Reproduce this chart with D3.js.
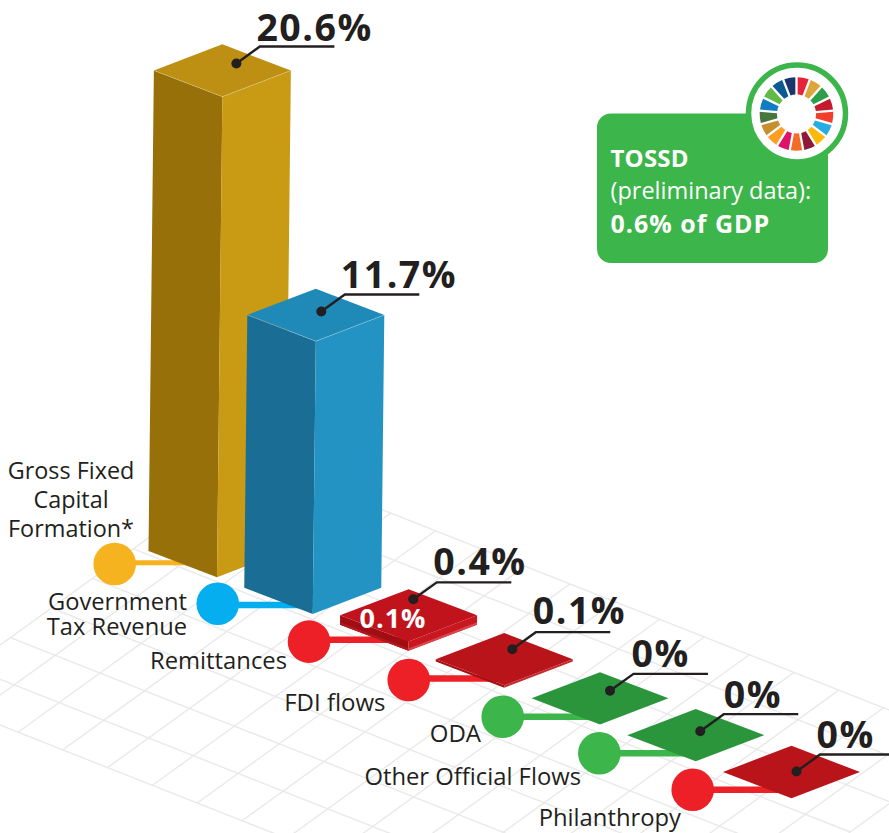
<!DOCTYPE html>
<html><head><meta charset="utf-8">
<script src="https://cdn.jsdelivr.net/npm/d3@7"></script>
<style>
html,body{margin:0;padding:0;background:#fff}
svg{display:block}
text{font-family:"Open Sans",sans-serif}
</style></head><body>
<svg id="c" width="889" height="833"></svg>
<script>
// ---- data ----
const categories = ["Gross Fixed Capital Formation*","Government Tax Revenue","Remittances","FDI flows","ODA","Other Official Flows","Philanthropy"];
const values = [20.6,11.7,0.4,0.1,0,0,0];
const valueLabels = ["20.6%","11.7%","0.4%","0.1%","0%","0%","0%"];
const innerValues = [0,0,0.1,0,0,0,0];
const innerLabel = "0.1%";
const categoryLines = [["Gross Fixed","Capital","Formation*"],["Government","Tax Revenue"],["Remittances"],["FDI flows"],["ODA"],["Other Official Flows"],["Philanthropy"]];
const tossdLines = ["TOSSD","(preliminary data):","0.6% of GDP"];
const sdgColors = ["#e5243b","#dda63a","#2f9e48","#c5192d","#f0402b","#26aee2","#fcb90b","#8f1838","#f36d25","#dd1367","#fd9d24","#c88f2e","#48773e","#0f7cc4","#62b946","#0a5a94","#19376d"];

// ---- styles ----
const faceLeft  = ["#977009","#1a6d94","#a00e14","#a51015","#2a953b","#2a953b","#b9141a"];
const faceRight = ["#c99a13","#2393c4","#c8171f","#c42a30","#2a953b","#2a953b","#b9141a"];
const faceTop   = ["#bd8f12","#1f89b8","#c1131b","#b9141a","#2a953b","#2a953b","#b9141a"];
const markerColor = ["#f4b31f","#04aeef","#ed1f27","#ed1f27","#3cb54a","#3cb54a","#ed1f27"];
const ink = "#231f20";

// ---- layout helpers ----
const svg = d3.select("#c");
const xBase = d3.scalePoint().domain(categories).range([217,791.5]);
const yBase = d3.scalePoint().domain(categories).range([551,772]);
const hScale = d3.scaleLinear().domain([0,20.6]).range([0,480.5]);
const halfW = 68.5, halfH = 26.2, tilt = 0.0112;
// annotation offsets from a bar's top centre / base centre
const dotOffset = [[14,-7],[5.5,-3.5],[4.7,-16],[8,-10],[10,-7.5],[4.5,-4],[5,-0.5]];
const markerOffset = [[-102.3,13],[-95,15.9],[-99.5,17],[-95.5,18.5],[-97.3,18.4],[-96.4,18.1],[-98.8,17.7]];
const connectorDy = [-1.3,1.3,-2,-1.5,0,0,0];
const labelPos = [[71,479,"middle"],[187,610,"end"],[287,669,"end"],[385.5,711,"end"],[481,742,"end"],[581,785,"end"],[681,826,"end"]];
const labelSize = [23.4,23.7,23.8,24,24,23.8,23.8];
const lineGap = [29,25,0,0,0,0,0];
const valueDx = [-3.5,-4,-3.5,-3,-2,0,-3.5];
const valueDy = [-5.6,-6.3,-7,-7.7,-7,-6.3,-6.7];

// ---- floor grid ----
const gridI = d3.range(-2,15), gridJ = d3.range(-6,3);
const gx = (i,j)=>100+44.8*i-41*j, gy = (i,j)=>673+17.7*i+29.6*j;
const gridPath = d3.line();
const grid = svg.append("g").attr("fill","none").attr("stroke","#e9e9e9").attr("stroke-width",1.4);
gridI.forEach(i=>grid.append("path").attr("d",gridPath([[gx(i,-6),gy(i,-6)],[gx(i,2),gy(i,2)]])));
gridJ.forEach(j=>grid.append("path").attr("d",gridPath([[gx(-2,j),gy(-2,j)],[gx(14,j),gy(14,j)]])));

// ---- bars, connectors, markers ----
const poly = d3.line().curve(d3.curveLinearClosed);
function prism(g,cx,cy,h,l,r,t){
  const sx = h*tilt;
  const L=[cx-halfW,cy],F=[cx,cy+halfH],R=[cx+halfW,cy];
  const up=p=>[p[0]+sx,p[1]-h];
  if(h>0){
    g.append("path").attr("d",poly([L,F,up(F),up(L)])).attr("fill",l);
    g.append("path").attr("d",poly([F,R,up(R),up(F)])).attr("fill",r);
  }
  if(t){
    const B=[cx,cy-halfH];
    g.append("path").attr("d",poly([L,F,R,B].map(up))).attr("fill",t);
    if(h>20) g.append("path").attr("d",d3.line()([up(L),up(F),up(R)])).attr("fill","none").attr("stroke","#fff").attr("stroke-opacity",.3).attr("stroke-width",.8);
  }
}
categories.forEach((c,k)=>{
  const g = svg.append("g");
  const cx=xBase(c), cy=yBase(c), h=hScale(values[k]);
  const mx=cx+markerOffset[k][0], my=cy+markerOffset[k][1];
  g.append("line").attr("x1",mx).attr("x2",cx).attr("y1",my+connectorDy[k]).attr("y2",my+connectorDy[k])
    .attr("stroke",markerColor[k]).attr("stroke-width",k==0?5:6.5);
  prism(g,cx,cy,h,faceLeft[k],faceRight[k],faceTop[k]);
  if(innerValues[k]>0){
    prism(g.append("g"),cx,cy,hScale(innerValues[k]),"#b01a20","#d8474d",null);
  }
  g.append("circle").attr("cx",mx).attr("cy",my).attr("r",21.3).attr("fill",markerColor[k]);
});

// ---- category labels ----
categories.forEach((c,k)=>{
  const [lx,ly,anchor]=labelPos[k];
  const t=svg.append("text").attr("text-anchor",anchor).attr("font-size",labelSize[k]).attr("fill",ink);
  categoryLines[k].forEach((s,n)=>{
    t.append("tspan").attr("x",lx).attr("y",ly+n*lineGap[k]).text(s);
  });
});

// ---- value annotations ----
categories.forEach((c,k)=>{
  const h=hScale(values[k]);
  const tx=xBase(c)+h*tilt, ty=yBase(c)-h;
  const dx=tx+dotOffset[k][0], dy=ty+dotOffset[k][1];
  const ux=dx+23.5, uy=dy-17;
  const g=svg.append("g");
  g.append("path").attr("d",d3.line()([[dx,dy],[ux,uy],[ux+74.5,uy]])).attr("fill","none").attr("stroke",ink).attr("stroke-width",2.4);
  g.append("circle").attr("cx",dx).attr("cy",dy).attr("r",5).attr("fill",ink);
  g.append("text").attr("x",ux+valueDx[k]).attr("y",uy+valueDy[k]).attr("font-size",37.5).attr("letter-spacing",1.5).attr("font-weight",700).attr("fill",ink).text(valueLabels[k]);
});

// inner label on the remittances slab
svg.append("text").attr("x",393).attr("y",628).attr("text-anchor","middle").attr("font-size",27).attr("letter-spacing",1).attr("font-weight",700).attr("fill","#fff").text(innerLabel);

// ---- TOSSD badge ----
const green="#3cb54a";
svg.append("rect").attr("x",597).attr("y",113.5).attr("width",231).attr("height",149.5).attr("rx",14).attr("fill",green);
svg.append("circle").attr("cx",797).attr("cy",113.5).attr("r",48.5).attr("fill","#fff").attr("stroke",green).attr("stroke-width",5.5);
const pie=d3.pie().value(1).sort(null);
const arc=d3.arc().innerRadius(19.5).outerRadius(36.8).padAngle(0.055);
svg.append("g").attr("transform","translate(796.5,114)").selectAll("path").data(pie(sdgColors)).join("path")
  .attr("d",arc).attr("fill",d=>d.data);
const by=[167,199,233], bw=[700,400,700], bs=[24,23.5,25], bl=[0.2,0,1];
tossdLines.forEach((s,i)=>svg.append("text").attr("x",610.5).attr("y",by[i]).attr("font-size",bs[i]).attr("letter-spacing",bl[i]).attr("font-weight",bw[i]).attr("fill","#fff").text(s));
</script>
</body></html>
